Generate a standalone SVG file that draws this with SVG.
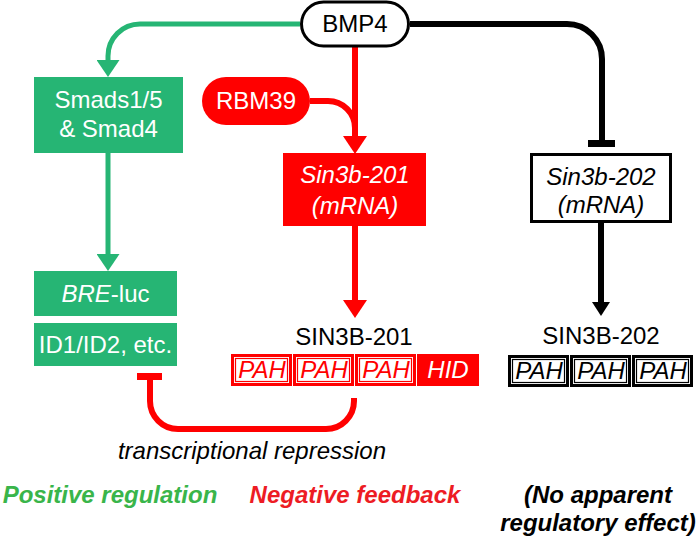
<svg xmlns="http://www.w3.org/2000/svg" width="700" height="539" viewBox="0 0 700 539">
<style>
text{font-family:"Liberation Sans",Arial,sans-serif;font-size:24px;text-anchor:middle}
.w{fill:#fff}.k{fill:#000}.r{fill:#ff0000}
.i{font-style:italic}
.lab{font-weight:bold;font-style:italic}
.gbox{fill:#26b574}
.rbox{fill:#ff0000}
.cg{fill:none;stroke:#26b574;stroke-width:5}
.cr{fill:none;stroke:#ff0000;stroke-width:6}
.ck{fill:none;stroke:#000;stroke-width:6}
.cellR{fill:#ff0000}
.cellK{fill:#000}
.inner{fill:#fff}
.thinR{fill:none;stroke:#ff0000;stroke-width:1.2}
.thinK{fill:none;stroke:#000;stroke-width:1.2}
</style>
<defs>
<marker id="ag" markerUnits="userSpaceOnUse" viewBox="0 0 17 23" refX="0" refY="11.5" markerWidth="17" markerHeight="23" orient="auto"><path d="M0,0L17,11.5L0,23z" fill="#26b574"/></marker>
<marker id="ar" markerUnits="userSpaceOnUse" viewBox="0 0 18 24" refX="0" refY="12" markerWidth="18" markerHeight="24" orient="auto"><path d="M0,0L18,12L0,24z" fill="#ff0000"/></marker>
<marker id="ak" markerUnits="userSpaceOnUse" viewBox="0 0 14 18" refX="0" refY="9" markerWidth="14" markerHeight="18" orient="auto"><path d="M0,0L14,9L0,18z" fill="#000"/></marker>
</defs>

<g id="connectors">
<path class="cg" d="M300,24H140A32,32 0 0 0 108,56V60" marker-end="url(#ag)"/>
<path class="cg" d="M108,153V254" marker-end="url(#ag)"/>
<path class="cr" d="M355,47V136" marker-end="url(#ar)"/>
<path class="cr" d="M310,101H328A27,27 0 0 1 355,128V136"/>
<path class="cr" d="M355,226V300" marker-end="url(#ar)"/>
<path class="ck" d="M410,24H567A35,35 0 0 1 602,59V143"/>
<line x1="588" y1="143.5" x2="615" y2="143.5" stroke="#000" stroke-width="7"/>
<path class="ck" d="M601,222V302" marker-end="url(#ak)"/>
<path class="cr" d="M354,398V401A28,28 0 0 1 326,429H178A28,28 0 0 1 150,401V378"/>
<line x1="137" y1="376.5" x2="162" y2="376.5" stroke="#ff0000" stroke-width="7"/>
</g>

<g id="bmp4">
<rect x="301.5" y="2" width="107" height="44" rx="22" fill="#fff" stroke="#000" stroke-width="3"/>
<text x="355" y="32" class="k">BMP4</text>
</g>

<g id="smads">
<rect x="34" y="77" width="149" height="76" class="gbox"/>
<text x="108.5" y="108" class="w">Smads1/5</text>
<text x="108.5" y="137" class="w">&amp; Smad4</text>
</g>

<g id="bre">
<rect x="34" y="271" width="143" height="45" class="gbox"/>
<text x="105.5" y="302" class="w"><tspan class="i">BRE</tspan>-luc</text>
</g>

<g id="id12">
<rect x="34" y="323" width="143" height="43" class="gbox"/>
<text x="105.5" y="353" class="w">ID1/ID2, etc.</text>
</g>

<g id="rbm39">
<rect x="202" y="77" width="108" height="48" rx="24" class="rbox"/>
<text x="256" y="109" class="w">RBM39</text>
</g>

<g id="sin3b201mrna">
<rect x="283" y="153" width="143" height="73" class="rbox"/>
<text x="355" y="183" class="w i">Sin3b-201</text>
<text x="355" y="214" class="w i">(mRNA)</text>
</g>

<g id="sin3b202mrna">
<rect x="531.5" y="154.5" width="139" height="67" fill="#fff" stroke="#000" stroke-width="3"/>
<text x="601" y="185" class="k i">Sin3b-202</text>
<text x="601" y="213" class="k i">(mRNA)</text>
</g>

<g id="sin3b201">
<text x="354" y="345" class="k">SIN3B-201</text>
<rect x="231" y="354" width="61" height="32" class="cellR"/>
<rect x="234" y="357" width="55" height="26" class="inner"/>
<rect x="235.5" y="358.5" width="52" height="23" class="thinR"/>
<text x="262" y="378" class="r i" font-size="23">PAH</text>
<rect x="293" y="354" width="61" height="32" class="cellR"/>
<rect x="296" y="357" width="55" height="26" class="inner"/>
<rect x="297.5" y="358.5" width="52" height="23" class="thinR"/>
<text x="324" y="378" class="r i" font-size="23">PAH</text>
<rect x="355" y="354" width="61" height="32" class="cellR"/>
<rect x="358" y="357" width="55" height="26" class="inner"/>
<rect x="359.5" y="358.5" width="52" height="23" class="thinR"/>
<text x="386" y="378" class="r i" font-size="23">PAH</text>
<rect x="417" y="354" width="62" height="32" class="cellR"/>
<text x="448" y="378" class="w i" font-size="23">HID</text>
</g>

<g id="sin3b202">
<text x="601" y="344" class="k">SIN3B-202</text>
<rect x="508" y="355" width="61" height="32" class="cellK"/>
<rect x="511" y="358" width="55" height="26" class="inner"/>
<rect x="512.5" y="359.5" width="52" height="23" class="thinK"/>
<text x="539" y="379" class="k i" font-size="23">PAH</text>
<rect x="570" y="355" width="61" height="32" class="cellK"/>
<rect x="573" y="358" width="55" height="26" class="inner"/>
<rect x="574.5" y="359.5" width="52" height="23" class="thinK"/>
<text x="601" y="379" class="k i" font-size="23">PAH</text>
<rect x="632" y="355" width="61" height="32" class="cellK"/>
<rect x="635" y="358" width="55" height="26" class="inner"/>
<rect x="636.5" y="359.5" width="52" height="23" class="thinK"/>
<text x="663" y="379" class="k i" font-size="23">PAH</text>
</g>

<g id="labels">
<text x="252" y="459" class="k i" font-size="25">transcriptional repression</text>
<text x="110" y="503" class="lab" fill="#39b54a">Positive regulation</text>
<text x="355" y="503" class="lab" fill="#ed1c24">Negative feedback</text>
<text x="598" y="503" class="lab k">(No apparent</text>
<text x="598" y="531" class="lab k">regulatory effect)</text>
</g>
</svg>
